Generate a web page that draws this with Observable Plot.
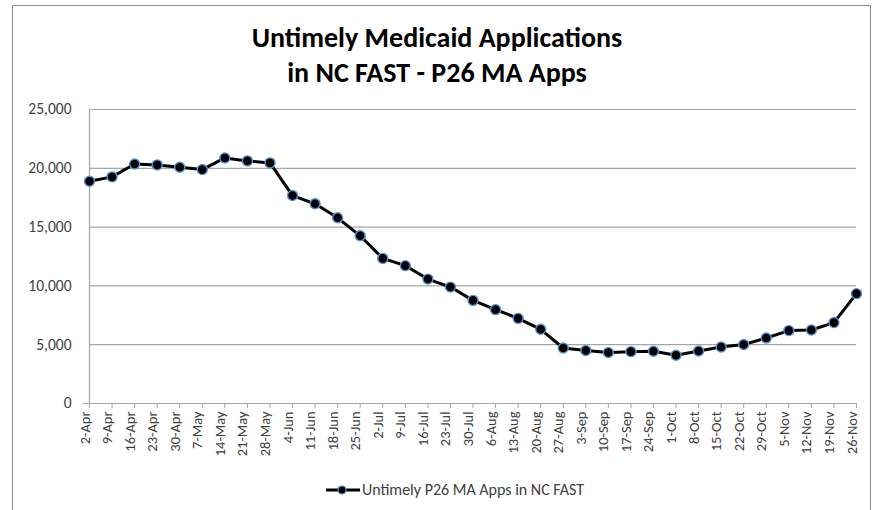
<!DOCTYPE html>
<html>
<head>
<meta charset="utf-8">
<script src="https://cdn.jsdelivr.net/npm/d3@7"></script>
<script src="https://cdn.jsdelivr.net/npm/@observablehq/plot@0.6"></script>
<style>
  html, body { margin: 0; padding: 0; background: #fff; }
  #wrap { position: relative; width: 874px; height: 510px; overflow: hidden; font-family: Carlito, Lato, sans-serif; }
  #border { position: absolute; left: 12px; top: 5px; width: 859px; height: 530px; border: 1px solid #8c8c8c; box-sizing: border-box; }
  #title { position: absolute; left: 0; top: 20px; width: 874px; text-align: center; font-weight: bold; font-size: 28px; line-height: 35px; color: #000; }
  #legend { position: absolute; left: 18px; top: 480px; width: 874px; display: flex; justify-content: center; align-items: center; font-size: 16px; color: #404040; }
  #chart { position: absolute; left: 0; top: 0; }
</style>
</head>
<body>
<div id="wrap">
  <div id="border"></div>
  <div id="chart"></div>
  <div id="title">Untimely Medicaid Applications<br>in NC FAST - P26 MA Apps</div>
  <div id="legend"></div>
</div>
<script>
const seriesName = "Untimely P26 MA Apps in NC FAST";
const weeks = ["2-Apr","9-Apr","16-Apr","23-Apr","30-Apr","7-May","14-May","21-May","28-May",
  "4-Jun","11-Jun","18-Jun","25-Jun","2-Jul","9-Jul","16-Jul","23-Jul","30-Jul",
  "6-Aug","13-Aug","20-Aug","27-Aug","3-Sep","10-Sep","17-Sep","24-Sep",
  "1-Oct","8-Oct","15-Oct","22-Oct","29-Oct","5-Nov","12-Nov","19-Nov","26-Nov"];
const values = [18900,19270,20370,20290,20090,19890,20880,20630,20460,
  17680,16980,15790,14260,12340,11720,10580,9900,8770,
  7980,7240,6310,4720,4500,4330,4410,4440,
  4100,4460,4800,5010,5570,6200,6250,6880,9340];
const yTicks = [0,5000,10000,15000,20000,25000];

const data = weeks.map((w, i) => ({week: w, value: values[i]}));
const fmt = d3.format(",");

const chart = Plot.plot({
  width: 874,
  height: 510,
  marginLeft: 89,
  marginRight: 18,
  marginTop: 109,
  marginBottom: 107,
  style: {fontFamily: "Carlito, Lato, sans-serif", fontSize: "15px", color: "#404040", background: "transparent", overflow: "visible"},
  x: {type: "point", domain: weeks, padding: 0, round: false},
  y: {domain: [0, 25000], axis: null},
  marks: [
    Plot.ruleY(yTicks, {stroke: "#a6a6a6", strokeWidth: 1.2}),
    Plot.ruleX([weeks[0]], {stroke: "#a6a6a6", strokeWidth: 1.2}),
    Plot.ruleY([0], {stroke: "#a6a6a6", strokeWidth: 1.2, dx: -6}),
    Plot.axisX({tickSize: 5, tickFormat: () => "", stroke: "#a6a6a6", label: null}),
    Plot.text(yTicks, {y: d => d, frameAnchor: "left", text: d => fmt(d), textAnchor: "end", dx: -18, fontSize: 15.5, fill: "#404040"}),
    Plot.text(weeks, {x: d => d, frameAnchor: "bottom", text: d => d, rotate: -90, textAnchor: "end", dy: 8, fontSize: 14.5, fill: "#404040"}),
    Plot.line(data, {x: "week", y: "value", stroke: "#000", strokeWidth: 3}),
    Plot.dot(data, {x: "week", y: "value", r: 5, fill: "#000", stroke: "#5b8fd0", strokeWidth: 1.4})
  ]
});
document.getElementById("chart").appendChild(chart);

// legend
const leg = document.getElementById("legend");
const sw = document.createElementNS("http://www.w3.org/2000/svg", "svg");
sw.setAttribute("width", 34); sw.setAttribute("height", 14);
sw.innerHTML = '<line x1="0" y1="7" x2="34" y2="7" stroke="#000" stroke-width="3"/><circle cx="16" cy="7" r="4" fill="#000" stroke="#5b8fd0" stroke-width="1.2"/>';
leg.appendChild(sw);
const lt = document.createElement("span");
lt.textContent = seriesName;
lt.style.marginLeft = "2px";
leg.appendChild(lt);
</script>
</body>
</html>
